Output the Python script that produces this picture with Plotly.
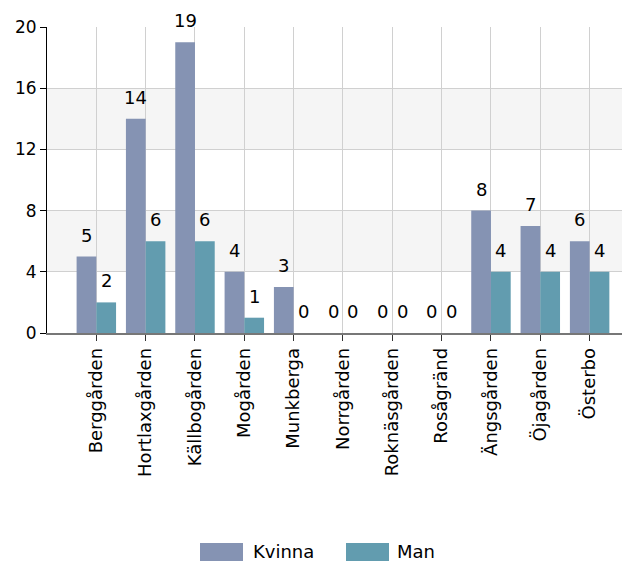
import plotly.graph_objects as go

# Data
omraden = ["Berggården", "Hortlaxgården", "Källbogården", "Mogården", "Munkberga",
           "Norrgården", "Roknäsgården", "Rosågränd", "Ängsgården", "Öjagården", "Österbo"]
kvinna = [5, 14, 19, 4, 3, 0, 0, 0, 8, 7, 6]
man = [2, 6, 6, 1, 0, 0, 0, 0, 4, 4, 4]
y_ticks = [0, 4, 8, 12, 16, 20]

FONT = "DejaVu Sans, Arial, sans-serif"
C_KVINNA = "#8593b3"
C_MAN = "#629caf"

# sidan har 8 px marginal runt figuren
OFF = 8
W, H = 630 - OFF, 562 - OFF
M_L, M_R, M_T, M_B = 47 - OFF, 0, 27 - OFF, 229
PLOT_W = W - M_L - M_R
PLOT_H = H - M_T - M_B
CAT_PX = 49.33


def px_x(px):
    return (px - OFF - M_L) / PLOT_W


def px_y(py):
    return (H - M_B - (py - OFF)) / PLOT_H


fig = go.Figure()
fig.add_trace(go.Bar(x=omraden, y=kvinna, name="Kvinna", marker=dict(color=C_KVINNA, line=dict(width=0))))
fig.add_trace(go.Bar(x=omraden, y=man, name="Man", marker=dict(color=C_MAN, line=dict(width=0))))

# etiketter ovanför staplarna
half = CAT_PX * 0.8 / 4
for serie, dx in [(kvinna, -half), (man, half)]:
    for namn, v in zip(omraden, serie):
        fig.add_annotation(x=namn, y=v, text=str(v), showarrow=False,
                           xshift=dx, yshift=9, yanchor="bottom",
                           font=dict(family=FONT, size=18, color="#000"))

# grå band
for y0, y1 in [(4, 8), (12, 16)]:
    fig.add_shape(type="rect", xref="paper", yref="y", x0=0, x1=1, y0=y0, y1=y1,
                  fillcolor="#f5f5f5", line=dict(width=0), layer="below")

# egen legend
for (x0, x1), tx, label, col in [((200, 243), 251, "Kvinna", C_KVINNA), ((346, 389), 395, "Man", C_MAN)]:
    fig.add_shape(type="rect", xref="paper", yref="paper",
                  x0=px_x(x0), x1=px_x(x1), y0=px_y(561), y1=px_y(543),
                  fillcolor=col, line=dict(width=0))
    fig.add_annotation(xref="paper", yref="paper", x=px_x(tx), y=px_y(551),
                       text=label, showarrow=False, xanchor="left", yanchor="middle",
                       font=dict(family=FONT, size=18, color="#000"))

fig.update_layout(
    width=W, height=H,
    margin=dict(l=M_L, r=M_R, t=M_T, b=M_B),
    barmode="group", bargap=0.2, bargroupgap=0,
    plot_bgcolor="white", paper_bgcolor="white",
    showlegend=False,
    font=dict(family=FONT, size=18, color="#000"),
    xaxis=dict(
        type="category",
        range=[-1, -1 + PLOT_W / CAT_PX],
        showgrid=True, gridcolor="#d0d0d0", gridwidth=1,
        showline=True, linecolor="#777", linewidth=1.5,
        ticks="outside", ticklen=6, tickcolor="#333",
        tickangle=-90, tickfont=dict(family=FONT, size=18, color="#000"),
        zeroline=False,
    ),
    yaxis=dict(
        range=[0, 20], tickvals=y_ticks,
        showgrid=True, gridcolor="#d0d0d0", gridwidth=1,
        showline=True, linecolor="#000", linewidth=1,
        ticks="outside", ticklen=6, tickcolor="#000",
        tickfont=dict(family=FONT, size=17, color="#000"),
        zeroline=False,
    ),
)

fig.write_html("out.html")
